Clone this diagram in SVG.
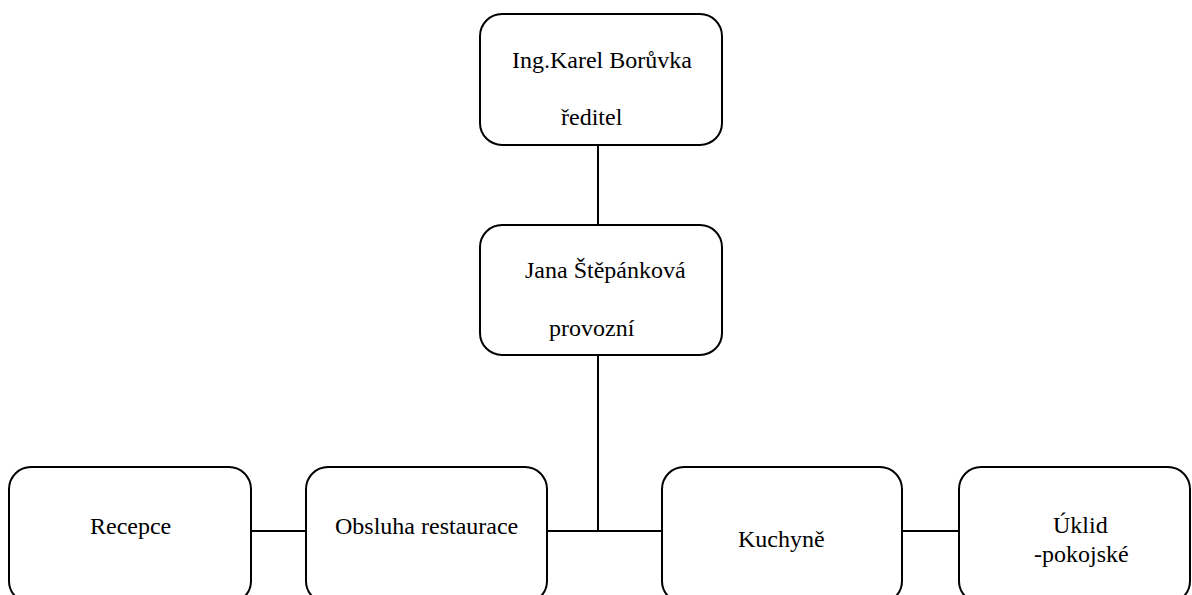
<svg xmlns="http://www.w3.org/2000/svg" width="1192" height="595" viewBox="0 0 1192 595">
  <style>
    .box { fill: #ffffff; stroke: #000000; stroke-width: 2; }
    .link { stroke: #000000; stroke-width: 2; fill: none; }
    .label { font-family: 'Liberation Serif', serif; font-size: 24px; fill: #000000; }
  </style>
  <rect width="1192" height="595" fill="#ffffff"/>

  <!-- connectors -->
  <g id="connectors">
    <line class="link" x1="598" y1="145" x2="598" y2="225"/>
    <line class="link" x1="598" y1="355" x2="598" y2="531"/>
    <line class="link" x1="251" y1="531" x2="306" y2="531"/>
    <line class="link" x1="547" y1="531" x2="662" y2="531"/>
    <line class="link" x1="902" y1="531" x2="959" y2="531"/>
  </g>

  <g id="reditel">
    <rect class="box" x="480" y="14" width="242" height="131" rx="22" ry="22"/>
    <text class="label" x="512" y="68">Ing.Karel Borůvka</text>
    <text class="label" x="561" y="125">ředitel</text>
  </g>

  <g id="provozni">
    <rect class="box" x="480" y="225" width="242" height="130" rx="22" ry="22"/>
    <text class="label" x="525" y="278">Jana Štěpánková</text>
    <text class="label" x="549" y="336">provozní</text>
  </g>

  <g id="recepce">
    <rect class="box" x="9" y="467" width="242" height="136" rx="22" ry="22"/>
    <text class="label" x="90" y="534">Recepce</text>
  </g>

  <g id="obsluha">
    <rect class="box" x="306" y="467" width="241" height="136" rx="22" ry="22"/>
    <text class="label" x="335" y="534">Obsluha restaurace</text>
  </g>

  <g id="kuchyne">
    <rect class="box" x="662" y="467" width="240" height="136" rx="22" ry="22"/>
    <text class="label" x="738" y="547">Kuchyně</text>
  </g>

  <g id="uklid">
    <rect class="box" x="959" y="467" width="231" height="136" rx="22" ry="22"/>
    <text class="label" x="1053" y="533">Úklid</text>
    <text class="label" x="1034" y="562">-pokojské</text>
  </g>
</svg>
